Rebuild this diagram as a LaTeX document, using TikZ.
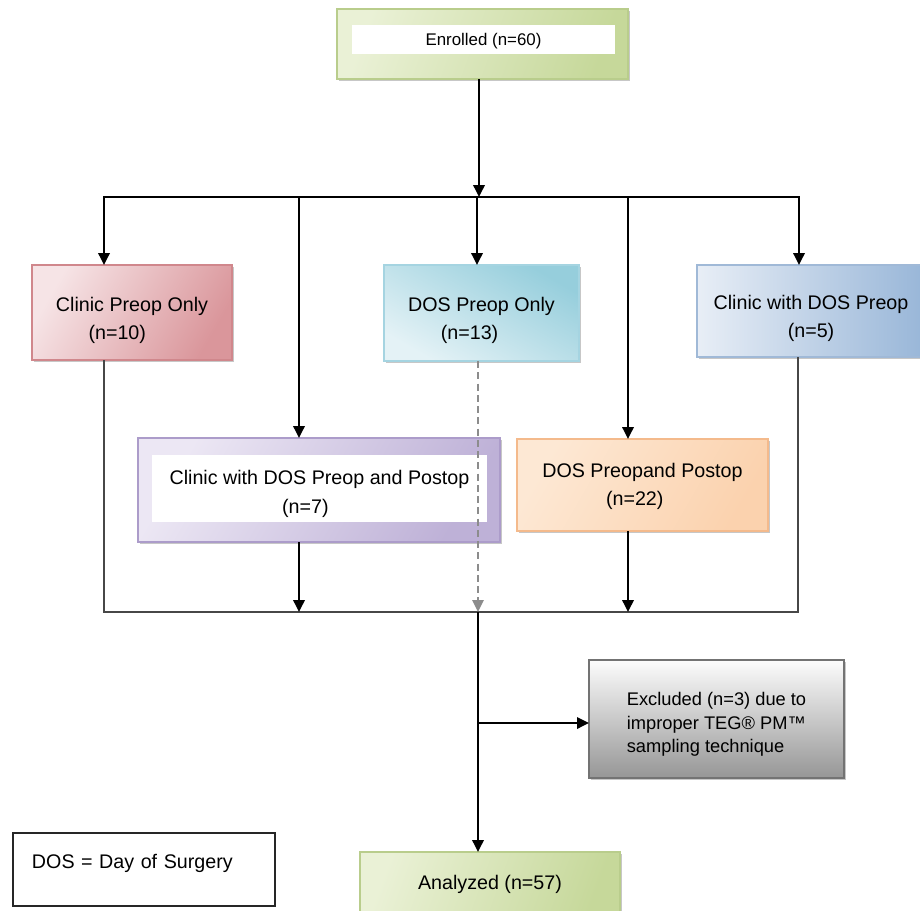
\documentclass[tikz,border=0pt]{standalone}
\usepackage{fontspec}
\setmainfont{Liberation Sans}
\usepackage{tikz}
\usetikzlibrary{arrows.meta}
\usetikzlibrary{shadows}
% box colours: light, dark and edge
\definecolor{greenL}{RGB}{234,241,214}
\definecolor{greenD}{RGB}{198,216,154}
\definecolor{greenE}{RGB}{185,205,140}
\definecolor{pinkL}{RGB}{246,228,230}
\definecolor{pinkD}{RGB}{218,150,155}
\definecolor{pinkE}{RGB}{208,135,140}
\definecolor{cyanL}{RGB}{228,242,246}
\definecolor{cyanD}{RGB}{150,206,220}
\definecolor{cyanE}{RGB}{165,212,225}
\definecolor{blueL}{RGB}{232,238,246}
\definecolor{blueD}{RGB}{152,182,216}
\definecolor{blueE}{RGB}{160,185,215}
\definecolor{purpL}{RGB}{236,231,244}
\definecolor{purpD}{RGB}{190,177,215}
\definecolor{purpE}{RGB}{172,156,202}
\definecolor{orngL}{RGB}{253,232,212}
\definecolor{orngD}{RGB}{251,210,174}
\definecolor{orngE}{RGB}{244,186,140}
\definecolor{grayL}{RGB}{252,252,252}
\definecolor{grayD}{RGB}{150,150,150}
% strut that pushes the text of a box a little down
\newcommand{\lowby}[1]{\rule{0pt}{#1}}
\tikzset{
	% Box styles for the flow chart: shaded boxes, white insets and a plain box
	flow box/.style={rectangle,inner sep=0pt,outer sep=0pt,align=center,line width=0.8pt,
		font=\fontsize{14}{20}\selectfont,
		general shadow={fill=black!22,shadow xshift=1.6pt,shadow yshift=-1.6pt}},
	inset box/.style={rectangle,fill=white,inner sep=0pt,outer sep=0pt,align=center},
	plain box/.style={rectangle,draw=black!85,line width=0.9pt,inner sep=0pt,outer sep=0pt},
	% connectors
	flow arrow/.style={line width=1.8pt,-{Triangle[width=8pt,length=8.5pt]}},
	flow line/.style={line width=1.4pt,draw=black!72},
	dash line/.style={line width=1.5pt,draw=black!45,dashed,dash pattern=on 5pt off 3pt,
		-{Triangle[width=8pt,length=8.5pt]}}
}
\begin{document}
\begin{tikzpicture}[x=0.025cm,y=-0.025cm]
	\useasboundingbox (0,0) rectangle (920,910);
	
	% top box
	\node(enrol)[flow box,draw=greenE,left color=greenL,right color=greenD,shading angle=70,
		minimum width=7.275cm,minimum height=1.75cm] at (482.5,44){};
	\node(enrol-in)[inset box,minimum width=6.575cm,minimum height=0.725cm,
		font=\fontsize{12}{14}\selectfont] at (483.5,39.5){\lowby{11pt}Enrolled (n=60)};
	
	% first row of groups
	\node(clinpre)[flow box,draw=pinkE,left color=pinkL,right color=pinkD,shading angle=60,
		minimum width=5cm,minimum height=2.375cm] at (132,312.5)
		{\lowby{21pt}Clinic Preop Only\\\hspace*{-21pt}(n=10)};
	\node(dospre)[flow box,draw=cyanE,top color=cyanD,bottom color=cyanL,shading angle=-30,
		minimum width=4.875cm,minimum height=2.4cm] at (481.5,313)
		{\lowby{21pt}DOS Preop Only\\\hspace*{-17pt}(n=13)};
	\node(clindos)[flow box,draw=blueE,left color=blueL,right color=blueD,
		minimum width=5.7cm,minimum height=2.3cm] at (811,311)
		{\lowby{21pt}Clinic with DOS Preop\\(n=5)};
	
	% second row of groups
	\node(clindospp)[flow box,draw=purpE,left color=purpL,right color=purpD,shading angle=60,
		minimum width=9.05cm,minimum height=2.6cm] at (319,490){};
	\node(clindospp-in)[inset box,minimum width=8.375cm,minimum height=1.675cm,
		font=\fontsize{14}{21}\selectfont] at (319.5,488.5)
		{\lowby{18pt}Clinic with DOS Preop and Postop\\\hspace*{-20pt}(n=7)};
	\node(dospp)[flow box,draw=orngE,left color=orngL,right color=orngD,shading angle=60,
		minimum width=6.275cm,minimum height=2.3cm] at (642.5,485)
		{\lowby{12pt}DOS Preopand Postop\\\hspace*{-11pt}(n=22)};
	
	% exclusion and result
	\node(excl)[flow box,draw=black!55,top color=grayL,bottom color=grayD,align=left,
		font=\fontsize{13}{17}\selectfont,
		minimum width=6.375cm,minimum height=2.95cm] at (716.5,719)
		{\lowby{17pt}Excluded (n=3) due to\\improper TEG® PM™\\sampling technique};
	\node(anal)[flow box,draw=greenE,left color=greenL,right color=greenD,shading angle=70,
		minimum width=6.5cm,minimum height=1.5cm] at (490,882){\lowby{13pt}Analyzed (n=57)};
	
	% legend
	\node(legend)[plain box,align=left,text width=5.6cm,inner xsep=0.475cm,
		text depth=12pt,font=\fontsize{14}{17}\selectfont,
		minimum height=1.825cm] at (144,869.5){DOS = Day of Surgery};
	
	% branch points
	\coordinate(split) at (479,197);
	\coordinate(c1) at (104,197);
	\coordinate(c2) at (299,197);
	\coordinate(c3) at (477,197);
	\coordinate(c4) at (628,197);
	\coordinate(c5) at (799,197);
	\coordinate(b1) at (104,612);
	\coordinate(b5) at (798,612);
	\coordinate(join) at (478,612);
	\coordinate(excl-split) at (478,723);
	
	% upper connectors
	\draw[flow arrow](enrol.south -| split)--(split);
	\draw[flow arrow](split)--(c1)--(c1 |- clinpre.north);
	\draw[flow arrow](split)--(c5)--(c5 |- clindos.north);
	\draw[flow arrow](c2)--(c2 |- clindospp.north);
	\draw[flow arrow](c3)--(c3 |- dospre.north);
	\draw[flow arrow](c4)--(c4 |- dospp.north);
	
	% lower connectors
	\draw[flow line](clinpre.south -| b1)--(b1)--(b5)--(clindos.south -| b5);
	\draw[flow arrow](clindospp.south -| c2)--(c2 |- join);
	\draw[flow arrow](dospp.south -| c4)--(c4 |- join);
	\draw[dash line](dospre.south -| join)--(join);
	\draw[flow arrow](join)--(anal.north -| join);
	\draw[flow arrow](excl-split)--(excl-split -| excl.west);
\end{tikzpicture}
\end{document}
